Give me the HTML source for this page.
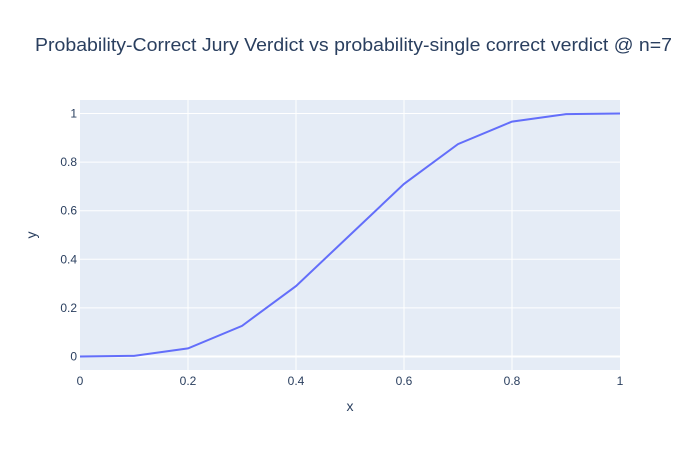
<!DOCTYPE html>
<html><head><meta charset="utf-8"><style>
body{margin:0;background:#fff;font-family:"Liberation Sans",sans-serif;}
svg text{font-family:"Liberation Sans",sans-serif;fill:#2a3f5f;}
</style></head><body>
<svg id="chart" width="700" height="450">
<rect x="0" y="0" width="700" height="450" fill="#fff"/>
<text x="35" y="51" font-size="18" textLength="637" lengthAdjust="spacingAndGlyphs">Probability-Correct Jury Verdict vs probability-single correct verdict @ n=7</text>
<rect x="80" y="100" width="540" height="270" fill="#e5ecf6"/>
<g id="grid"></g>
<g id="ticks"></g>
<text x="350" y="411" font-size="14" text-anchor="middle">x</text>
<text x="36" y="235" font-size="14" text-anchor="middle" transform="rotate(-90 36 235)">y</text>
<path id="line" fill="none" stroke="#636efa" stroke-width="2"/>
</svg>
<script>
const xValues=[0,0.1,0.2,0.3,0.4,0.5,0.6,0.7,0.8,0.9,1];
const yValues=[0,0.0027,0.0333,0.1260,0.2898,0.5,0.7102,0.8740,0.9667,0.9973,1];
const xTicks=[0,0.2,0.4,0.6,0.8,1];
const yTicks=[0,0.2,0.4,0.6,0.8,1];
const xTickLabels=["0","0.2","0.4","0.6","0.8","1"];
const yTickLabels=["0","0.2","0.4","0.6","0.8","1"];
const X=v=>80+v*540;
const Y=v=>356.5-v*243;
const ns="http://www.w3.org/2000/svg";
const grid=document.getElementById('grid'),ticks=document.getElementById('ticks');
function mk(tag,attrs,parent){const e=document.createElementNS(ns,tag);for(const k in attrs)e.setAttribute(k,attrs[k]);parent.appendChild(e);return e;}
xTicks.forEach((t,i)=>{
 if(t>0&&t<1){const l=mk('line',{x1:X(t),x2:X(t),y1:100,y2:370,stroke:'#fff','stroke-width':1},grid);
 
 }
 const tx=mk('text',{x:X(t),y:385,'font-size':12,'text-anchor':'middle'},ticks);tx.textContent=xTickLabels[i];
 
 
});
yTicks.forEach((t,i)=>{
 const l=mk('line',{x1:80,x2:620,y1:Y(t),y2:Y(t),stroke:'#fff','stroke-width':t===0?2:1},grid);
 
 
 const tx=mk('text',{x:77,y:Y(t)+4,'font-size':12,'text-anchor':'end'},ticks);tx.textContent=yTickLabels[i];
 
 
});
document.getElementById('line').setAttribute('d',xValues.map((x,i)=>(i?'L':'M')+X(x)+','+Y(yValues[i])).join(''));
</script>
</body></html>
